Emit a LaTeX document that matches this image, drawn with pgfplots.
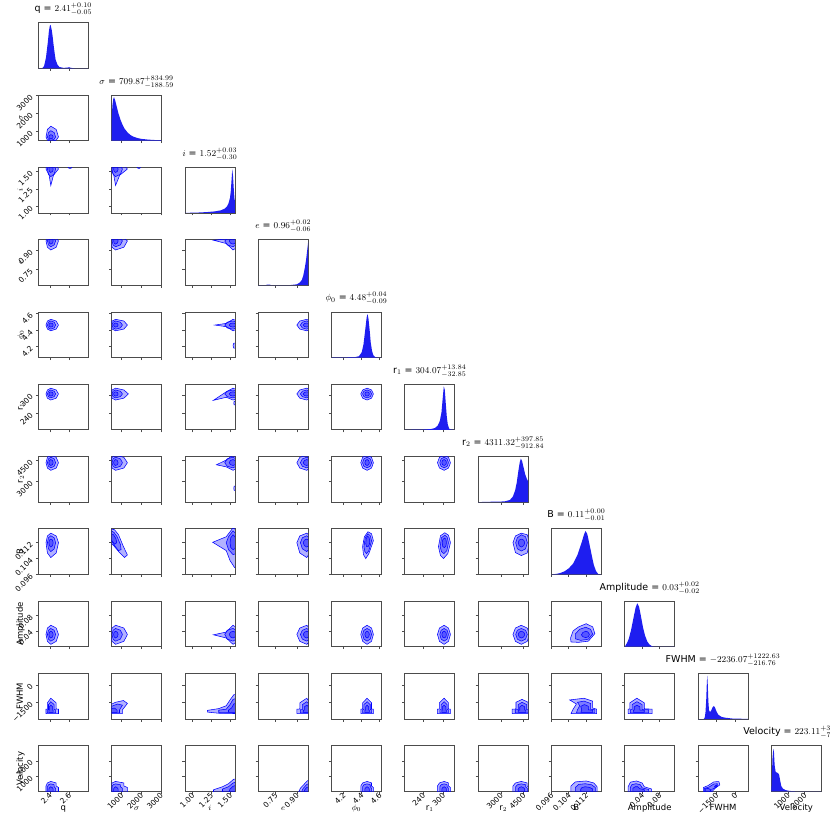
\documentclass[border=0pt]{standalone}
\usepackage{pgfplots}
\pgfplotsset{compat=1.18}
\usepackage{fontspec}
\newfontfamily\dv{DejaVu Sans}
\definecolor{hb}{RGB}{30,30,240}
\pgfplotsset{
  cp/.style={anchor=north west, scale only axis, width=50pt, height=45.6pt,
    axis line style={black!70,line width=0.7pt},
    every tick/.style={black!70,line width=0.6pt},
    major tick length=2.5pt, tick align=outside, tick pos=left,
    xticklabels={}, yticklabels={},
    tick label style={font=\dv\fontsize{7.5}{8}\selectfont},
    xticklabel style={rotate=45,anchor=east,xshift=3.5pt,yshift=-1pt},
    yticklabel style={rotate=45,anchor=east,yshift=2.5pt},
    xlabel style={font=\dv\fontsize{8.5}{10}\selectfont,at={(axis description cs:0.5,-0.41)},anchor=base},
    ylabel style={font=\dv\fontsize{8.5}{10}\selectfont,at={(axis description cs:-0.31,0.5)},anchor=base},
    title style={font=\dv\fontsize{9.5}{11}\selectfont,at={(axis description cs:0.5,1)},anchor=base,yshift=5pt},
    clip=true},
  cell/.style 2 args={at={({38.3pt+73.3pt*(#2-1)},{-22.7pt-72.3pt*(#1-1)})}},
  dg/.style={ymin=0,ymax=1.05,ytick=\empty},
  lv/.style={fill=blue,fill opacity=0.3,draw=blue,line width=0.55pt},
  hist/.style={draw=none,fill=hb},
  xq/.style={xmin=2.28,xmax=2.80,xtick={2.4,2.6}},
  xs/.style={xmin=500,xmax=3030,xtick={1000,2000,3000}},
  ys/.style={ymin=500,ymax=3030,ytick={1000,2000,3000}},
  xi/.style={xmin=0.9,xmax=1.565,xtick={1,1.25,1.5}},
  yi/.style={ymin=0.9,ymax=1.565,ytick={1,1.25,1.5}},
  xe/.style={xmin=0.628,xmax=0.98,xtick={0.75,0.9}},
  ye/.style={ymin=0.628,ymax=0.98,ytick={0.75,0.9}},
  xp/.style={xmin=4.065,xmax=4.62,xtick={4.2,4.4,4.6}},
  yp/.style={ymin=4.065,ymax=4.62,ytick={4.2,4.4,4.6}},
  xr/.style={xmin=185,xmax=335,xtick={240,300}},
  yr/.style={ymin=185,ymax=335,ytick={240,300}},
  xt/.style={xmin=1500,xmax=4800,xtick={3000,4500}},
  yt/.style={ymin=1500,ymax=4800,ytick={3000,4500}},
  xb/.style={xmin=0.096,xmax=0.119,xtick={0.096,0.104,0.112}},
  yb/.style={ymin=0.096,ymax=0.119,ytick={0.096,0.104,0.112}},
  xa/.style={xmin=0,xmax=0.115,xtick={0.04,0.08}},
  ya/.style={ymin=0,ymax=0.115,ytick={0.04,0.08}},
  xf/.style={xmin=-2950,xmax=1000,xtick={-1500,0}},
  yf/.style={ymin=-2950,ymax=1000,ytick={-1500,0}},
  xv/.style={xmin=0,xmax=3000,xtick={1000,2000}},
  yv/.style={ymin=0,ymax=3000,ytick={1000,2000}},
}
\begin{document}
\begin{tikzpicture}
\useasboundingbox (0,0) rectangle (830pt,-830pt);
% ---------------- row 1
\begin{axis}[cp,cell={1}{1},xq,dg,title={q = $2.41^{+0.10}_{-0.05}$}]
\addplot[hist] coordinates {(2.28,0)(2.32,0)(2.34,0.05)(2.36,0.25)(2.38,0.62)(2.39,0.85)(2.40,0.98)(2.405,1.0)(2.41,0.98)(2.42,0.88)(2.43,0.72)(2.44,0.52)(2.45,0.35)(2.46,0.2)(2.48,0.08)(2.50,0.03)(2.54,0.01)(2.58,0.015)(2.60,0.025)(2.62,0.01)(2.66,0)(2.80,0)} \closedcycle;
\end{axis}
% ---------------- row 2 (sigma)
\begin{axis}[cp,cell={2}{1},xq,ys,yticklabels={1000,2000,3000},ylabel={$\sigma$}]
\addplot[lv] coordinates {(2.49,700)(2.466,1120)(2.41,1300)(2.375,1120)(2.36,700)(2.375,525)(2.41,450)(2.466,525)(2.49,700)};
\addplot[lv] coordinates {(2.46,700)(2.445,945)(2.41,1050)(2.386,945)(2.375,700)(2.386,574)(2.41,520)(2.445,574)(2.46,700)};
\addplot[lv] coordinates {(2.435,700)(2.428,791)(2.41,830)(2.396,791)(2.39,700)(2.396,630)(2.41,600)(2.428,630)(2.435,700)};
\end{axis}
\begin{axis}[cp,cell={2}{2},xs,dg,title={$\sigma$ = $709.87^{+834.99}_{-188.59}$}]
\addplot[hist] coordinates {(500,0)(501,0.45)(540,0.8)(580,0.95)(620,1.0)(680,0.93)(750,0.8)(850,0.62)(950,0.48)(1050,0.37)(1150,0.28)(1300,0.19)(1450,0.13)(1600,0.09)(1800,0.06)(2000,0.04)(2300,0.025)(2600,0.015)(3000,0.008)(3030,0)} \closedcycle;
\end{axis}
% ---------------- row 3 (i)
\begin{axis}[cp,cell={3}{1},xq,yi,yticklabels={1.00,1.25,1.50},ylabel={$i$}]
\addplot[lv] coordinates {(2.49,1.54)(2.466,1.596)(2.41,1.62)(2.375,1.596)(2.36,1.54)(2.3925,1.45)(2.41,1.30)(2.438,1.45)(2.49,1.54)};
\addplot[lv] coordinates {(2.46,1.54)(2.445,1.582)(2.41,1.60)(2.386,1.582)(2.375,1.54)(2.386,1.463)(2.41,1.43)(2.445,1.463)(2.46,1.54)};
\addplot[lv] coordinates {(2.435,1.54)(2.428,1.568)(2.41,1.58)(2.396,1.568)(2.39,1.54)(2.396,1.505)(2.41,1.49)(2.428,1.505)(2.435,1.54)};
\addplot[lv] coordinates {(2.63,1.565)(2.62,1.58)(2.60,1.58)(2.59,1.565)(2.60,1.55)(2.62,1.55)(2.63,1.565)};
\end{axis}
\begin{axis}[cp,cell={3}{2},xs,yi]
\addplot[lv] coordinates {(1300,1.54)(1120,1.596)(700,1.62)(525,1.596)(450,1.54)(612,1.45)(700,1.30)(910,1.45)(1300,1.54)};
\addplot[lv] coordinates {(1050,1.54)(945,1.582)(700,1.60)(574,1.582)(520,1.54)(574,1.463)(700,1.43)(945,1.463)(1050,1.54)};
\addplot[lv] coordinates {(830,1.54)(791,1.568)(700,1.58)(630,1.568)(600,1.54)(630,1.505)(700,1.49)(791,1.505)(830,1.54)};
\addplot[lv] coordinates {(1960,1.565)(1920,1.58)(1840,1.58)(1800,1.565)(1840,1.55)(1920,1.55)(1960,1.565)};
\end{axis}
\begin{axis}[cp,cell={3}{3},xi,dg,title={$i$ = $1.52^{+0.03}_{-0.30}$}]
\addplot[hist] coordinates {(0.9,0)(1.0,0.005)(1.1,0.01)(1.2,0.02)(1.3,0.035)(1.38,0.06)(1.43,0.1)(1.46,0.15)(1.48,0.22)(1.50,0.35)(1.51,0.5)(1.52,0.75)(1.53,1.0)(1.54,0.85)(1.55,0.55)(1.56,0.32)(1.565,0.28)(1.565,0)} \closedcycle;
\end{axis}
% ---------------- row 4 (e)
\begin{axis}[cp,cell={4}{1},xq,ye,yticklabels={0.75,0.90},ylabel={$e$}]
\addplot[lv] coordinates {(2.49,0.97)(2.466,0.991)(2.41,1.0)(2.375,0.991)(2.36,0.97)(2.375,0.921)(2.41,0.90)(2.466,0.921)(2.49,0.97)};
\addplot[lv] coordinates {(2.46,0.97)(2.445,0.988)(2.41,0.995)(2.386,0.988)(2.375,0.97)(2.386,0.939)(2.41,0.925)(2.445,0.939)(2.46,0.97)};
\addplot[lv] coordinates {(2.435,0.97)(2.428,0.984)(2.41,0.99)(2.396,0.984)(2.39,0.97)(2.396,0.953)(2.41,0.945)(2.428,0.953)(2.435,0.97)};
\end{axis}
\begin{axis}[cp,cell={4}{2},xs,ye]
\addplot[lv] coordinates {(1300,0.97)(1120,0.991)(700,1.0)(525,0.991)(450,0.97)(525,0.921)(700,0.90)(1120,0.921)(1300,0.97)};
\addplot[lv] coordinates {(1050,0.97)(945,0.988)(700,0.995)(574,0.988)(520,0.97)(574,0.939)(700,0.925)(945,0.939)(1050,0.97)};
\addplot[lv] coordinates {(830,0.97)(791,0.984)(700,0.99)(630,0.984)(600,0.97)(630,0.953)(700,0.945)(791,0.953)(830,0.97)};
\end{axis}
\begin{axis}[cp,cell={4}{3},xi,ye]
\addplot[lv] coordinates {(1.62,0.97)(1.596,0.991)(1.54,1.0)(1.45,0.985)(1.28,0.975)(1.45,0.95)(1.54,0.90)(1.596,0.921)(1.62,0.97)};
\addplot[lv] coordinates {(1.60,0.97)(1.582,0.988)(1.54,0.995)(1.463,0.988)(1.43,0.97)(1.463,0.939)(1.54,0.925)(1.582,0.939)(1.60,0.97)};
\addplot[lv] coordinates {(1.58,0.97)(1.568,0.984)(1.54,0.99)(1.505,0.984)(1.49,0.97)(1.505,0.953)(1.54,0.945)(1.568,0.953)(1.58,0.97)};
\end{axis}
\begin{axis}[cp,cell={4}{4},xe,dg,title={$e$ = $0.96^{+0.02}_{-0.06}$}]
\addplot[hist] coordinates {(0.628,0)(0.68,0)(0.69,0.012)(0.71,0.012)(0.72,0)(0.85,0.002)(0.90,0.02)(0.92,0.06)(0.935,0.12)(0.945,0.22)(0.955,0.38)(0.965,0.58)(0.972,0.78)(0.98,1.0)(0.98,0)} \closedcycle;
\end{axis}
% ---------------- row 5 (phi0)
\begin{axis}[cp,cell={5}{1},xq,yp,yticklabels={4.2,4.4,4.6},ylabel={$\phi_0$}]
\addplot[lv] coordinates {(2.49,4.46)(2.466,4.509)(2.41,4.53)(2.375,4.509)(2.36,4.46)(2.375,4.411)(2.41,4.39)(2.466,4.411)(2.49,4.46)};
\addplot[lv] coordinates {(2.46,4.46)(2.445,4.495)(2.41,4.51)(2.386,4.495)(2.375,4.46)(2.386,4.425)(2.41,4.41)(2.445,4.425)(2.46,4.46)};
\addplot[lv] coordinates {(2.435,4.46)(2.428,4.478)(2.41,4.485)(2.396,4.478)(2.39,4.46)(2.396,4.443)(2.41,4.435)(2.428,4.443)(2.435,4.46)};
\end{axis}
\begin{axis}[cp,cell={5}{2},xs,yp]
\addplot[lv] coordinates {(1300,4.46)(1120,4.509)(700,4.53)(525,4.509)(450,4.46)(525,4.411)(700,4.39)(1120,4.411)(1300,4.46)};
\addplot[lv] coordinates {(1050,4.46)(945,4.495)(700,4.51)(574,4.495)(520,4.46)(574,4.425)(700,4.41)(945,4.425)(1050,4.46)};
\addplot[lv] coordinates {(830,4.46)(791,4.478)(700,4.485)(630,4.478)(600,4.46)(630,4.443)(700,4.435)(791,4.443)(830,4.46)};
\end{axis}
\begin{axis}[cp,cell={5}{3},xi,yp]
\addplot[lv] coordinates {(1.62,4.46)(1.596,4.509)(1.54,4.53)(1.45,4.48)(1.30,4.46)(1.45,4.44)(1.54,4.39)(1.596,4.411)(1.62,4.46)};
\addplot[lv] coordinates {(1.60,4.46)(1.582,4.495)(1.54,4.51)(1.463,4.495)(1.43,4.46)(1.463,4.425)(1.54,4.41)(1.582,4.425)(1.60,4.46)};
\addplot[lv] coordinates {(1.58,4.46)(1.568,4.478)(1.54,4.485)(1.505,4.478)(1.49,4.46)(1.505,4.443)(1.54,4.435)(1.568,4.443)(1.58,4.46)};
\addplot[lv] coordinates {(1.60,4.21)(1.58,4.24)(1.55,4.24)(1.54,4.21)(1.55,4.18)(1.58,4.18)(1.60,4.21)};
\end{axis}
\begin{axis}[cp,cell={5}{4},xe,yp]
\addplot[lv] coordinates {(1.0,4.46)(0.991,4.509)(0.97,4.53)(0.921,4.509)(0.90,4.46)(0.921,4.411)(0.97,4.39)(0.991,4.411)(1.0,4.46)};
\addplot[lv] coordinates {(0.995,4.46)(0.988,4.495)(0.97,4.51)(0.939,4.495)(0.925,4.46)(0.939,4.425)(0.97,4.41)(0.988,4.425)(0.995,4.46)};
\addplot[lv] coordinates {(0.99,4.46)(0.984,4.478)(0.97,4.485)(0.953,4.478)(0.945,4.46)(0.953,4.443)(0.97,4.435)(0.984,4.443)(0.99,4.46)};
\end{axis}
\begin{axis}[cp,cell={5}{5},xp,dg,title={$\phi_0$ = $4.48^{+0.04}_{-0.09}$}]
\addplot[hist] coordinates {(4.065,0)(4.15,0.003)(4.25,0.006)(4.33,0.01)(4.37,0.03)(4.40,0.12)(4.42,0.3)(4.44,0.65)(4.455,0.92)(4.465,1.0)(4.475,0.9)(4.49,0.6)(4.50,0.35)(4.515,0.15)(4.53,0.05)(4.55,0.01)(4.58,0)(4.62,0)} \closedcycle;
\end{axis}
% ---------------- row 6 (r1)
\begin{axis}[cp,cell={6}{1},xq,yr,yticklabels={240,300},ylabel={r$_1$}]
\addplot[lv] coordinates {(2.49,303)(2.466,316)(2.41,322)(2.375,316)(2.36,303)(2.375,289)(2.41,283)(2.466,289)(2.49,303)};
\addplot[lv] coordinates {(2.46,303)(2.445,312)(2.41,316)(2.386,312)(2.375,303)(2.386,294)(2.41,290)(2.445,294)(2.46,303)};
\addplot[lv] coordinates {(2.435,303)(2.428,308)(2.41,310)(2.396,308)(2.39,303)(2.396,298)(2.41,296)(2.428,298)(2.435,303)};
\end{axis}
\begin{axis}[cp,cell={6}{2},xs,yr]
\addplot[lv] coordinates {(1350,303)(1120,316)(700,322)(525,316)(450,303)(525,289)(700,283)(1120,289)(1350,303)};
\addplot[lv] coordinates {(1050,303)(945,312)(700,316)(574,312)(520,303)(574,294)(700,290)(945,294)(1050,303)};
\addplot[lv] coordinates {(830,303)(791,308)(700,310)(630,308)(600,303)(630,298)(700,296)(791,298)(830,303)};
\end{axis}
\begin{axis}[cp,cell={6}{3},xi,yr]
\addplot[lv] coordinates {(1.62,303)(1.596,316)(1.54,322)(1.45,310)(1.28,282)(1.45,292)(1.54,283)(1.596,289)(1.62,303)};
\addplot[lv] coordinates {(1.60,303)(1.582,312)(1.54,316)(1.463,312)(1.43,303)(1.463,294)(1.54,290)(1.582,294)(1.60,303)};
\addplot[lv] coordinates {(1.58,303)(1.568,308)(1.54,310)(1.505,308)(1.49,303)(1.505,298)(1.54,296)(1.568,298)(1.58,303)};
\addplot[lv] coordinates {(1.60,273)(1.58,279)(1.555,279)(1.55,273)(1.555,267)(1.58,267)(1.60,273)};
\end{axis}
\begin{axis}[cp,cell={6}{4},xe,yr]
\addplot[lv] coordinates {(1.0,303)(0.991,316)(0.97,322)(0.921,316)(0.90,303)(0.921,289)(0.97,283)(0.991,289)(1.0,303)};
\addplot[lv] coordinates {(0.995,303)(0.988,312)(0.97,316)(0.939,312)(0.925,303)(0.939,294)(0.97,290)(0.988,294)(0.995,303)};
\addplot[lv] coordinates {(0.99,303)(0.984,308)(0.97,310)(0.953,308)(0.945,303)(0.953,298)(0.97,296)(0.984,298)(0.99,303)};
\end{axis}
\begin{axis}[cp,cell={6}{5},xp,yr]
\addplot[lv] coordinates {(4.53,303)(4.509,316)(4.46,322)(4.411,316)(4.39,303)(4.411,289)(4.46,283)(4.509,289)(4.53,303)};
\addplot[lv] coordinates {(4.51,303)(4.495,312)(4.46,316)(4.425,312)(4.41,303)(4.425,294)(4.46,290)(4.495,294)(4.51,303)};
\addplot[lv] coordinates {(4.485,303)(4.478,308)(4.46,310)(4.443,308)(4.435,303)(4.443,298)(4.46,296)(4.478,298)(4.485,303)};
\end{axis}
\begin{axis}[cp,cell={6}{6},xr,dg,title={r$_1$ = $304.07^{+13.84}_{-32.85}$}]
\addplot[hist] coordinates {(185,0)(230,0.003)(250,0.01)(265,0.02)(275,0.04)(283,0.09)(290,0.2)(295,0.4)(299,0.75)(302,1.0)(305,0.92)(308,0.6)(311,0.3)(314,0.12)(318,0.03)(322,0.005)(330,0)(335,0)} \closedcycle;
\end{axis}
% ---------------- row 7 (r2)
\begin{axis}[cp,cell={7}{1},xq,yt,yticklabels={3000,4500},ylabel={r$_2$}]
\addplot[lv] coordinates {(2.49,4350)(2.466,4740)(2.41,4900)(2.375,4740)(2.36,4350)(2.375,3965)(2.41,3800)(2.466,3965)(2.49,4350)};
\addplot[lv] coordinates {(2.46,4350)(2.445,4630)(2.41,4750)(2.386,4630)(2.375,4350)(2.386,4091)(2.41,3980)(2.445,4091)(2.46,4350)};
\addplot[lv] coordinates {(2.435,4350)(2.428,4511)(2.41,4580)(2.396,4511)(2.39,4350)(2.396,4210)(2.41,4150)(2.428,4210)(2.435,4350)};
\end{axis}
\begin{axis}[cp,cell={7}{2},xs,yt]
\addplot[lv] coordinates {(1300,4350)(1120,4740)(700,4900)(525,4740)(450,4350)(525,3965)(700,3800)(1120,3965)(1300,4350)};
\addplot[lv] coordinates {(1050,4350)(945,4630)(700,4750)(574,4630)(520,4350)(574,4091)(700,3980)(945,4091)(1050,4350)};
\addplot[lv] coordinates {(830,4350)(791,4511)(700,4580)(630,4511)(600,4350)(630,4210)(700,4150)(791,4210)(830,4350)};
\end{axis}
\begin{axis}[cp,cell={7}{3},xi,yt]
\addplot[lv] coordinates {(1.62,4350)(1.596,4740)(1.54,4900)(1.45,4550)(1.32,4200)(1.45,4050)(1.54,3800)(1.596,3965)(1.62,4350)};
\addplot[lv] coordinates {(1.60,4350)(1.582,4630)(1.54,4750)(1.463,4630)(1.43,4350)(1.463,4091)(1.54,3980)(1.582,4091)(1.60,4350)};
\addplot[lv] coordinates {(1.58,4350)(1.568,4511)(1.54,4580)(1.505,4511)(1.49,4350)(1.505,4210)(1.54,4150)(1.568,4210)(1.58,4350)};
\addplot[lv] coordinates {(1.60,2500)(1.58,2650)(1.555,2650)(1.55,2500)(1.555,2350)(1.58,2350)(1.60,2500)};
\end{axis}
\begin{axis}[cp,cell={7}{4},xe,yt]
\addplot[lv] coordinates {(1.0,4350)(0.991,4740)(0.97,4900)(0.921,4740)(0.90,4350)(0.921,3965)(0.97,3800)(0.991,3965)(1.0,4350)};
\addplot[lv] coordinates {(0.995,4350)(0.988,4630)(0.97,4750)(0.939,4630)(0.925,4350)(0.939,4091)(0.97,3980)(0.988,4091)(0.995,4350)};
\addplot[lv] coordinates {(0.99,4350)(0.984,4511)(0.97,4580)(0.953,4511)(0.945,4350)(0.953,4210)(0.97,4150)(0.984,4210)(0.99,4350)};
\end{axis}
\begin{axis}[cp,cell={7}{5},xp,yt]
\addplot[lv] coordinates {(4.53,4350)(4.509,4740)(4.46,4900)(4.411,4740)(4.39,4350)(4.411,3965)(4.46,3800)(4.509,3965)(4.53,4350)};
\addplot[lv] coordinates {(4.51,4350)(4.495,4630)(4.46,4750)(4.425,4630)(4.41,4350)(4.425,4091)(4.46,3980)(4.495,4091)(4.51,4350)};
\addplot[lv] coordinates {(4.485,4350)(4.478,4511)(4.46,4580)(4.443,4511)(4.435,4350)(4.443,4210)(4.46,4150)(4.478,4210)(4.485,4350)};
\end{axis}
\begin{axis}[cp,cell={7}{6},xr,yt]
\addplot[lv] coordinates {(322,4350)(316,4740)(303,4900)(289,4740)(283,4350)(289,3965)(303,3800)(316,3965)(322,4350)};
\addplot[lv] coordinates {(316,4350)(312,4630)(303,4750)(294,4630)(290,4350)(294,4091)(303,3980)(312,4091)(316,4350)};
\addplot[lv] coordinates {(310,4350)(308,4511)(303,4580)(298,4511)(296,4350)(298,4210)(303,4150)(308,4210)(310,4350)};
\end{axis}
\begin{axis}[cp,cell={7}{7},xt,dg,title={r$_2$ = $4311.32^{+397.85}_{-912.84}$}]
\addplot[hist] coordinates {(1500,0)(2000,0.005)(2500,0.01)(3000,0.012)(3300,0.02)(3600,0.05)(3800,0.13)(3950,0.28)(4050,0.45)(4150,0.7)(4250,0.92)(4320,1.0)(4400,0.95)(4500,0.8)(4600,0.65)(4700,0.55)(4800,0.48)(4800,0)} \closedcycle;
\end{axis}
% ---------------- row 8 (B)
\begin{axis}[cp,cell={8}{1},xq,yb,yticklabels={0.096,0.104,0.112},ylabel={B}]
\addplot[lv] coordinates {(2.49,0.112)(2.466,0.1154)(2.41,0.1168)(2.375,0.1154)(2.36,0.112)(2.375,0.1068)(2.41,0.1045)(2.466,0.1068)(2.49,0.112)};
\addplot[lv] coordinates {(2.46,0.112)(2.445,0.1145)(2.41,0.1155)(2.386,0.1145)(2.375,0.112)(2.386,0.1089)(2.41,0.1075)(2.445,0.1089)(2.46,0.112)};
\addplot[lv] coordinates {(2.435,0.112)(2.428,0.1133)(2.41,0.1138)(2.396,0.1133)(2.39,0.112)(2.396,0.1105)(2.41,0.1098)(2.428,0.1105)(2.435,0.112)};
\end{axis}
\begin{axis}[cp,cell={8}{2},xs,yb]
\addplot[lv] coordinates {(450,0.1190)(650,0.1185)(850,0.1160)(1100,0.1100)(1300,0.1058)(1150,0.1045)(900,0.1070)(650,0.1100)(450,0.1120)(450,0.1190)};
\addplot[lv] coordinates {(480,0.1180)(620,0.1172)(780,0.1150)(950,0.1110)(980,0.1085)(850,0.1080)(650,0.1105)(480,0.1130)(480,0.1180)};
\addplot[lv] coordinates {(480,0.1165)(600,0.1160)(720,0.1140)(760,0.1120)(650,0.1112)(480,0.1135)(480,0.1165)};
\end{axis}
\begin{axis}[cp,cell={8}{3},xi,yb]
\addplot[lv] coordinates {(1.62,0.112)(1.596,0.1180)(1.54,0.1195)(1.45,0.1150)(1.27,0.1122)(1.45,0.1080)(1.50,0.1030)(1.56,0.0995)(1.62,0.1000)(1.62,0.112)};
\addplot[lv] coordinates {(1.60,0.112)(1.582,0.1165)(1.54,0.1180)(1.48,0.1150)(1.45,0.112)(1.48,0.1085)(1.54,0.1060)(1.582,0.1065)(1.60,0.112)};
\addplot[lv] coordinates {(1.58,0.112)(1.568,0.1150)(1.54,0.1160)(1.51,0.1145)(1.50,0.112)(1.51,0.1095)(1.54,0.1085)(1.568,0.1090)(1.58,0.112)};
\end{axis}
\begin{axis}[cp,cell={8}{4},xe,yb]
\addplot[lv] coordinates {(1.0,0.112)(0.991,0.1154)(0.97,0.1168)(0.921,0.1154)(0.90,0.112)(0.921,0.1068)(0.97,0.1045)(0.991,0.1068)(1.0,0.112)};
\addplot[lv] coordinates {(0.995,0.112)(0.988,0.1145)(0.97,0.1155)(0.939,0.1145)(0.925,0.112)(0.939,0.1089)(0.97,0.1075)(0.988,0.1089)(0.995,0.112)};
\addplot[lv] coordinates {(0.99,0.112)(0.984,0.1133)(0.97,0.1138)(0.953,0.1133)(0.945,0.112)(0.953,0.1105)(0.97,0.1098)(0.984,0.1105)(0.99,0.112)};
\end{axis}
\begin{axis}[cp,cell={8}{5},xp,yb]
\addplot[lv] coordinates {(4.53,0.113)(4.509,0.1165)(4.47,0.1175)(4.43,0.1150)(4.41,0.110)(4.42,0.1060)(4.445,0.1040)(4.48,0.1065)(4.53,0.113)};
\addplot[lv] coordinates {(4.51,0.113)(4.495,0.1155)(4.47,0.1165)(4.44,0.1145)(4.425,0.110)(4.435,0.1075)(4.455,0.1065)(4.48,0.108)(4.51,0.113)};
\addplot[lv] coordinates {(4.49,0.113)(4.48,0.1148)(4.465,0.1152)(4.45,0.1140)(4.445,0.1115)(4.455,0.1100)(4.47,0.1100)(4.485,0.111)(4.49,0.113)};
\end{axis}
\begin{axis}[cp,cell={8}{6},xr,yb]
\addplot[lv] coordinates {(322,0.112)(316,0.1158)(305,0.1170)(292,0.1155)(286,0.110)(292,0.1055)(301,0.1040)(314,0.1065)(322,0.112)};
\addplot[lv] coordinates {(316,0.112)(312,0.1148)(305,0.1158)(295,0.1145)(291,0.110)(295,0.1075)(302,0.1065)(311,0.108)(316,0.112)};
\addplot[lv] coordinates {(310,0.112)(308,0.1138)(304,0.1144)(299,0.1135)(297,0.112)(299,0.1100)(304,0.1095)(308,0.1102)(310,0.112)};
\end{axis}
\begin{axis}[cp,cell={8}{7},xt,yb]
\addplot[lv] coordinates {(4900,0.112)(4740,0.1160)(4350,0.1168)(3965,0.1154)(3800,0.112)(3965,0.1070)(4350,0.1055)(4740,0.1068)(4900,0.112)};
\addplot[lv] coordinates {(4750,0.112)(4630,0.1150)(4350,0.1160)(4091,0.1145)(3980,0.112)(4091,0.1089)(4350,0.1078)(4630,0.1089)(4750,0.112)};
\addplot[lv] coordinates {(4580,0.112)(4511,0.1133)(4350,0.1138)(4210,0.1133)(4150,0.112)(4210,0.1105)(4350,0.1098)(4511,0.1105)(4580,0.112)};
\end{axis}
\begin{axis}[cp,cell={8}{8},xb,dg,title={B = $0.11^{+0.00}_{-0.01}$}]
\addplot[hist] coordinates {(0.096,0)(0.098,0.01)(0.100,0.03)(0.102,0.07)(0.104,0.14)(0.106,0.25)(0.108,0.45)(0.110,0.75)(0.111,0.92)(0.1117,1.0)(0.1125,0.93)(0.1135,0.7)(0.1145,0.45)(0.1155,0.22)(0.1165,0.08)(0.1175,0.01)(0.119,0)} \closedcycle;
\end{axis}
% ---------------- row 9 (Amplitude)
\begin{axis}[cp,cell={9}{1},xq,ya,yticklabels={0.04,0.08},ylabel={Amplitude}]
\addplot[lv] coordinates {(2.49,0.031)(2.466,0.0471)(2.41,0.054)(2.375,0.0471)(2.36,0.031)(2.375,0.0135)(2.41,0.006)(2.466,0.0135)(2.49,0.031)};
\addplot[lv] coordinates {(2.46,0.031)(2.445,0.0415)(2.41,0.046)(2.386,0.0415)(2.375,0.031)(2.386,0.0191)(2.41,0.014)(2.445,0.0191)(2.46,0.031)};
\addplot[lv] coordinates {(2.435,0.031)(2.428,0.0366)(2.41,0.039)(2.396,0.0366)(2.39,0.031)(2.396,0.0247)(2.41,0.022)(2.428,0.0247)(2.435,0.031)};
\end{axis}
\begin{axis}[cp,cell={9}{2},xs,ya]
\addplot[lv] coordinates {(1300,0.031)(1120,0.0471)(700,0.054)(525,0.0471)(450,0.031)(525,0.0135)(700,0.006)(1120,0.0135)(1300,0.031)};
\addplot[lv] coordinates {(1050,0.031)(945,0.0415)(700,0.046)(574,0.0415)(520,0.031)(574,0.0191)(700,0.014)(945,0.0191)(1050,0.031)};
\addplot[lv] coordinates {(830,0.031)(791,0.0366)(700,0.039)(630,0.0366)(600,0.031)(630,0.0247)(700,0.022)(791,0.0247)(830,0.031)};
\end{axis}
\begin{axis}[cp,cell={9}{3},xi,ya]
\addplot[lv] coordinates {(1.62,0.031)(1.596,0.0471)(1.54,0.054)(1.45,0.037)(1.28,0.030)(1.45,0.022)(1.54,0.006)(1.596,0.0135)(1.62,0.031)};
\addplot[lv] coordinates {(1.60,0.031)(1.582,0.0415)(1.54,0.046)(1.463,0.0415)(1.43,0.031)(1.463,0.0191)(1.54,0.014)(1.582,0.0191)(1.60,0.031)};
\addplot[lv] coordinates {(1.58,0.031)(1.568,0.0366)(1.54,0.039)(1.505,0.0366)(1.49,0.031)(1.505,0.0247)(1.54,0.022)(1.568,0.0247)(1.58,0.031)};
\end{axis}
\begin{axis}[cp,cell={9}{4},xe,ya]
\addplot[lv] coordinates {(1.0,0.031)(0.991,0.0471)(0.97,0.054)(0.921,0.0471)(0.90,0.031)(0.921,0.0135)(0.97,0.006)(0.991,0.0135)(1.0,0.031)};
\addplot[lv] coordinates {(0.995,0.031)(0.988,0.0415)(0.97,0.046)(0.939,0.0415)(0.925,0.031)(0.939,0.0191)(0.97,0.014)(0.988,0.0191)(0.995,0.031)};
\addplot[lv] coordinates {(0.99,0.031)(0.984,0.0366)(0.97,0.039)(0.953,0.0366)(0.945,0.031)(0.953,0.0247)(0.97,0.022)(0.984,0.0247)(0.99,0.031)};
\end{axis}
\begin{axis}[cp,cell={9}{5},xp,ya]
\addplot[lv] coordinates {(4.53,0.031)(4.509,0.0471)(4.46,0.054)(4.411,0.0471)(4.39,0.031)(4.411,0.0135)(4.46,0.006)(4.509,0.0135)(4.53,0.031)};
\addplot[lv] coordinates {(4.51,0.031)(4.495,0.0415)(4.46,0.046)(4.425,0.0415)(4.41,0.031)(4.425,0.0191)(4.46,0.014)(4.495,0.0191)(4.51,0.031)};
\addplot[lv] coordinates {(4.485,0.031)(4.478,0.0366)(4.46,0.039)(4.443,0.0366)(4.435,0.031)(4.443,0.0247)(4.46,0.022)(4.478,0.0247)(4.485,0.031)};
\end{axis}
\begin{axis}[cp,cell={9}{6},xr,ya]
\addplot[lv] coordinates {(322,0.031)(316,0.0471)(303,0.054)(289,0.0471)(283,0.031)(289,0.0135)(303,0.006)(316,0.0135)(322,0.031)};
\addplot[lv] coordinates {(316,0.031)(312,0.0415)(303,0.046)(294,0.0415)(290,0.031)(294,0.0191)(303,0.014)(312,0.0191)(316,0.031)};
\addplot[lv] coordinates {(310,0.031)(308,0.0366)(303,0.039)(298,0.0366)(296,0.031)(298,0.0247)(303,0.022)(308,0.0247)(310,0.031)};
\end{axis}
\begin{axis}[cp,cell={9}{7},xt,ya]
\addplot[lv] coordinates {(4900,0.031)(4740,0.0471)(4350,0.054)(3965,0.0471)(3800,0.031)(3965,0.0135)(4350,0.006)(4740,0.0135)(4900,0.031)};
\addplot[lv] coordinates {(4750,0.031)(4630,0.0415)(4350,0.046)(4091,0.0415)(3980,0.031)(4091,0.0191)(4350,0.014)(4630,0.0191)(4750,0.031)};
\addplot[lv] coordinates {(4580,0.031)(4511,0.0366)(4350,0.039)(4210,0.0366)(4150,0.031)(4210,0.0247)(4350,0.022)(4511,0.0247)(4580,0.031)};
\end{axis}
\begin{axis}[cp,cell={9}{8},xb,ya]
\addplot[lv] coordinates {(0.1160,0.033)(0.1150,0.050)(0.1120,0.058)(0.1085,0.050)(0.1060,0.040)(0.1048,0.022)(0.1050,0.012)(0.1085,0.011)(0.1130,0.014)(0.1160,0.033)};
\addplot[lv] coordinates {(0.1150,0.032)(0.1140,0.044)(0.1118,0.049)(0.1090,0.044)(0.1070,0.032)(0.1070,0.020)(0.1095,0.016)(0.1130,0.019)(0.1150,0.032)};
\addplot[lv] coordinates {(0.1135,0.031)(0.1128,0.037)(0.1118,0.039)(0.1105,0.036)(0.1098,0.030)(0.1105,0.025)(0.1118,0.023)(0.1130,0.025)(0.1135,0.031)};
\end{axis}
\begin{axis}[cp,cell={9}{9},xa,dg,title={Amplitude = $0.03^{+0.02}_{-0.02}$}]
\addplot[hist] coordinates {(0,0)(0.002,0.03)(0.006,0.1)(0.01,0.2)(0.015,0.4)(0.02,0.65)(0.025,0.9)(0.029,1.0)(0.033,0.92)(0.037,0.72)(0.042,0.45)(0.047,0.25)(0.052,0.12)(0.057,0.05)(0.063,0.01)(0.07,0)(0.115,0)} \closedcycle;
\end{axis}
% ---------------- row 10 (FWHM)
\begin{axis}[cp,cell={10}{1},xq,yf,yticklabels={−1500,0},ylabel={FWHM}]
\addplot[lv] coordinates {(2.36,-2480)(2.49,-2480)(2.49,-2100)(2.466,-2080)(2.466,-1550)(2.41,-1150)(2.375,-1550)(2.375,-2080)(2.36,-2100)(2.36,-2480)};
\addplot[lv] coordinates {(2.375,-2420)(2.46,-2420)(2.46,-2150)(2.445,-2130)(2.445,-1700)(2.41,-1450)(2.386,-1700)(2.386,-2130)(2.375,-2150)(2.375,-2420)};
\addplot[lv] coordinates {(2.39,-2370)(2.435,-2370)(2.435,-2190)(2.428,-2170)(2.428,-1900)(2.41,-1750)(2.396,-1900)(2.396,-2170)(2.39,-2190)(2.39,-2370)};
\end{axis}
\begin{axis}[cp,cell={10}{2},xs,yf]
\addplot[lv] coordinates {(450,-2480)(1050,-2480)(1050,-2150)(1300,-1600)(1100,-1350)(700,-1500)(450,-1700)(450,-2480)};
\addplot[lv] coordinates {(450,-2420)(900,-2420)(900,-2170)(1050,-1750)(800,-1650)(500,-1850)(450,-2420)};
\addplot[lv] coordinates {(480,-2370)(780,-2370)(780,-2190)(650,-2000)(480,-2050)(480,-2370)};
\end{axis}
\begin{axis}[cp,cell={10}{3},xi,yf]
\addplot[lv] coordinates {(1.20,-2350)(1.35,-2450)(1.62,-2480)(1.62,-800)(1.55,-850)(1.50,-1300)(1.45,-1800)(1.35,-2050)(1.20,-2200)(1.20,-2350)};
\addplot[lv] coordinates {(1.35,-2400)(1.62,-2420)(1.62,-1100)(1.54,-1250)(1.50,-1700)(1.45,-2100)(1.35,-2180)(1.35,-2400)};
\addplot[lv] coordinates {(1.48,-2370)(1.62,-2370)(1.62,-1500)(1.55,-1650)(1.52,-2000)(1.48,-2180)(1.48,-2370)};
\end{axis}
\begin{axis}[cp,cell={10}{4},xe,yf]
\addplot[lv] coordinates {(0.90,-2480)(1.0,-2480)(1.0,-2100)(0.991,-2080)(0.991,-1550)(0.97,-1150)(0.921,-1550)(0.921,-2080)(0.90,-2100)(0.90,-2480)};
\addplot[lv] coordinates {(0.925,-2420)(0.995,-2420)(0.995,-2150)(0.988,-2130)(0.988,-1700)(0.97,-1450)(0.939,-1700)(0.939,-2130)(0.925,-2150)(0.925,-2420)};
\addplot[lv] coordinates {(0.945,-2370)(0.99,-2370)(0.99,-2190)(0.984,-2170)(0.984,-1900)(0.97,-1750)(0.953,-1900)(0.953,-2170)(0.945,-2190)(0.945,-2370)};
\end{axis}
\begin{axis}[cp,cell={10}{5},xp,yf]
\addplot[lv] coordinates {(4.39,-2480)(4.53,-2480)(4.53,-2100)(4.509,-2080)(4.509,-1550)(4.46,-1150)(4.411,-1550)(4.411,-2080)(4.39,-2100)(4.39,-2480)};
\addplot[lv] coordinates {(4.41,-2420)(4.51,-2420)(4.51,-2150)(4.495,-2130)(4.495,-1700)(4.46,-1450)(4.425,-1700)(4.425,-2130)(4.41,-2150)(4.41,-2420)};
\addplot[lv] coordinates {(4.435,-2370)(4.485,-2370)(4.485,-2190)(4.478,-2170)(4.478,-1900)(4.46,-1750)(4.443,-1900)(4.443,-2170)(4.435,-2190)(4.435,-2370)};
\end{axis}
\begin{axis}[cp,cell={10}{6},xr,yf]
\addplot[lv] coordinates {(283,-2480)(322,-2480)(322,-2100)(316,-2080)(316,-1550)(303,-1150)(289,-1550)(289,-2080)(283,-2100)(283,-2480)};
\addplot[lv] coordinates {(290,-2420)(316,-2420)(316,-2150)(312,-2130)(312,-1700)(303,-1450)(294,-1700)(294,-2130)(290,-2150)(290,-2420)};
\addplot[lv] coordinates {(296,-2370)(310,-2370)(310,-2190)(308,-2170)(308,-1900)(303,-1750)(298,-1900)(298,-2170)(296,-2190)(296,-2370)};
\end{axis}
\begin{axis}[cp,cell={10}{7},xt,yf]
\addplot[lv] coordinates {(3750,-2480)(4900,-2480)(4900,-2100)(4800,-2080)(4800,-1500)(4400,-1250)(4000,-1500)(4000,-2080)(3750,-2100)(3750,-2480)};
\addplot[lv] coordinates {(3950,-2420)(4800,-2420)(4800,-2150)(4700,-2130)(4700,-1700)(4400,-1500)(4150,-1700)(4150,-2130)(3950,-2150)(3950,-2420)};
\addplot[lv] coordinates {(4150,-2370)(4650,-2370)(4650,-2190)(4580,-2170)(4580,-1900)(4400,-1750)(4250,-1900)(4250,-2170)(4150,-2190)(4150,-2370)};
\end{axis}
\begin{axis}[cp,cell={10}{8},xb,yf]
\addplot[lv] coordinates {(0.1050,-2480)(0.1168,-2480)(0.1168,-2100)(0.1150,-2000)(0.1150,-1400)(0.1110,-1150)(0.1044,-1300)(0.1075,-1650)(0.1060,-2100)(0.1050,-2480)};
\addplot[lv] coordinates {(0.1075,-2420)(0.1160,-2420)(0.1160,-2150)(0.1140,-2100)(0.1140,-1600)(0.1110,-1400)(0.1080,-1500)(0.1090,-1800)(0.1080,-2150)(0.1075,-2420)};
\addplot[lv] coordinates {(0.1095,-2370)(0.1150,-2370)(0.1150,-2190)(0.1130,-2150)(0.1130,-1850)(0.1112,-1700)(0.1095,-1850)(0.1100,-2190)(0.1095,-2370)};
\end{axis}
\begin{axis}[cp,cell={10}{9},xa,yf]
\addplot[lv] coordinates {(0.008,-2480)(0.063,-2480)(0.063,-2100)(0.045,-2060)(0.045,-1550)(0.028,-1150)(0.012,-1550)(0.012,-2080)(0.008,-2100)(0.008,-2480)};
\addplot[lv] coordinates {(0.013,-2420)(0.055,-2420)(0.055,-2150)(0.040,-2130)(0.040,-1700)(0.028,-1450)(0.017,-1700)(0.017,-2130)(0.013,-2150)(0.013,-2420)};
\addplot[lv] coordinates {(0.020,-2370)(0.045,-2370)(0.045,-2190)(0.035,-2170)(0.035,-1900)(0.028,-1750)(0.022,-1900)(0.022,-2170)(0.020,-2190)(0.020,-2370)};
\end{axis}
\begin{axis}[cp,cell={10}{10},xf,dg,title={FWHM = $-2236.07^{+1222.63}_{-216.76}$}]
\addplot[hist] coordinates {(-2950,0)(-2500,0)(-2420,0.03)(-2360,0.15)(-2300,0.45)(-2250,0.85)(-2215,1.0)(-2180,0.8)(-2130,0.4)(-2080,0.2)(-2000,0.16)(-1900,0.2)(-1800,0.27)(-1700,0.3)(-1600,0.26)(-1500,0.18)(-1350,0.1)(-1100,0.05)(-800,0.03)(-500,0.02)(-200,0.01)(200,0.008)(600,0.005)(1000,0)} \closedcycle;
\end{axis}
% ---------------- row 11 (Velocity)
\begin{axis}[cp,cell={11}{1},xq,yv,yticklabels={1000,2000},ylabel={Velocity},xticklabels={2.4,2.6},xlabel={q}]
\addplot[lv] coordinates {(2.36,-100)(2.49,-100)(2.49,250)(2.466,350)(2.466,550)(2.41,650)(2.375,550)(2.36,350)(2.36,-100)};
\addplot[lv] coordinates {(2.375,-100)(2.46,-100)(2.46,200)(2.445,300)(2.445,430)(2.41,490)(2.386,430)(2.375,300)(2.375,-100)};
\addplot[lv] coordinates {(2.39,-100)(2.435,-100)(2.435,150)(2.428,230)(2.41,300)(2.396,230)(2.39,150)(2.39,-100)};
\end{axis}
\begin{axis}[cp,cell={11}{2},xs,yv,xticklabels={1000,2000,3000},xlabel={$\sigma$}]
\addplot[lv] coordinates {(450,-100)(1300,-100)(1300,250)(1120,350)(1120,550)(700,650)(525,550)(450,350)(450,-100)};
\addplot[lv] coordinates {(520,-100)(1050,-100)(1050,200)(945,300)(945,430)(700,490)(574,430)(520,300)(520,-100)};
\addplot[lv] coordinates {(600,-100)(830,-100)(830,150)(791,230)(700,300)(630,230)(600,150)(600,-100)};
\end{axis}
\begin{axis}[cp,cell={11}{3},xi,yv,xticklabels={1.00,1.25,1.50},xlabel={$i$}]
\addplot[lv] coordinates {(1.28,100)(1.28,-100)(1.62,-100)(1.62,820)(1.55,800)(1.48,500)(1.40,300)(1.28,100)};
\addplot[lv] coordinates {(1.40,150)(1.40,-100)(1.62,-100)(1.62,650)(1.54,550)(1.48,300)(1.40,150)};
\addplot[lv] coordinates {(1.48,-100)(1.62,-100)(1.62,450)(1.54,330)(1.50,150)(1.48,-100)};
\end{axis}
\begin{axis}[cp,cell={11}{4},xe,yv,xticklabels={0.75,0.90},xlabel={$e$}]
\addplot[lv] coordinates {(0.91,-100)(1.0,-100)(1.0,750)(0.975,700)(0.95,450)(0.925,200)(0.91,-100)};
\addplot[lv] coordinates {(0.93,-100)(1.0,-100)(1.0,560)(0.97,450)(0.945,200)(0.93,-100)};
\addplot[lv] coordinates {(0.95,-100)(1.0,-100)(1.0,350)(0.97,250)(0.955,100)(0.95,-100)};
\end{axis}
\begin{axis}[cp,cell={11}{5},xp,yv,xticklabels={4.2,4.4,4.6},xlabel={$\phi_0$}]
\addplot[lv] coordinates {(4.39,-100)(4.53,-100)(4.53,250)(4.509,350)(4.509,550)(4.46,650)(4.411,550)(4.39,350)(4.39,-100)};
\addplot[lv] coordinates {(4.41,-100)(4.51,-100)(4.51,200)(4.495,300)(4.495,430)(4.46,490)(4.425,430)(4.41,300)(4.41,-100)};
\addplot[lv] coordinates {(4.435,-100)(4.485,-100)(4.485,150)(4.478,230)(4.46,300)(4.443,230)(4.435,150)(4.435,-100)};
\end{axis}
\begin{axis}[cp,cell={11}{6},xr,yv,xticklabels={240,300},xlabel={r$_1$}]
\addplot[lv] coordinates {(283,-100)(322,-100)(322,250)(316,350)(316,550)(303,650)(289,550)(283,350)(283,-100)};
\addplot[lv] coordinates {(290,-100)(316,-100)(316,200)(312,300)(312,430)(303,490)(294,430)(290,300)(290,-100)};
\addplot[lv] coordinates {(296,-100)(310,-100)(310,150)(308,230)(303,300)(298,230)(296,150)(296,-100)};
\end{axis}
\begin{axis}[cp,cell={11}{7},xt,yv,xticklabels={3000,4500},xlabel={r$_2$}]
\addplot[lv] coordinates {(3800,-100)(4900,-100)(4900,250)(4740,350)(4740,550)(4350,650)(3965,550)(3800,350)(3800,-100)};
\addplot[lv] coordinates {(3980,-100)(4750,-100)(4750,200)(4630,300)(4630,430)(4350,490)(4091,430)(3980,300)(3980,-100)};
\addplot[lv] coordinates {(4150,-100)(4580,-100)(4580,150)(4511,230)(4350,300)(4210,230)(4150,150)(4150,-100)};
\end{axis}
\begin{axis}[cp,cell={11}{8},xb,yv,xticklabels={0.096,0.104,0.112},xlabel={B}]
\addplot[lv] coordinates {(0.1050,-100)(0.1170,-100)(0.1170,300)(0.1155,550)(0.1120,680)(0.1070,620)(0.1050,350)(0.1050,-100)};
\addplot[lv] coordinates {(0.1070,-100)(0.1162,-100)(0.1162,250)(0.1145,430)(0.1115,500)(0.1085,450)(0.1070,250)(0.1070,-100)};
\addplot[lv] coordinates {(0.1095,-100)(0.1150,-100)(0.1150,150)(0.1135,260)(0.1115,300)(0.1100,240)(0.1095,150)(0.1095,-100)};
\end{axis}
\begin{axis}[cp,cell={11}{9},xa,yv,xticklabels={0.04,0.08},xlabel={Amplitude}]
\addplot[lv] coordinates {(0.008,-100)(0.062,-100)(0.062,150)(0.045,300)(0.040,550)(0.027,680)(0.013,600)(0.008,300)(0.008,-100)};
\addplot[lv] coordinates {(0.013,-100)(0.055,-100)(0.055,120)(0.040,230)(0.036,430)(0.026,500)(0.016,430)(0.013,250)(0.013,-100)};
\addplot[lv] coordinates {(0.019,-100)(0.045,-100)(0.045,100)(0.034,180)(0.030,300)(0.024,300)(0.019,200)(0.019,-100)};
\end{axis}
\begin{axis}[cp,cell={11}{10},xf,yv,xticklabels={−1500,0},xlabel={FWHM}]
\addplot[lv] coordinates {(-2520,-100)(-2520,250)(-2150,380)(-1700,620)(-1300,640)(-1230,420)(-1600,200)(-1950,-100)(-2520,-100)};
\addplot[lv] coordinates {(-2440,-100)(-2440,200)(-2080,280)(-1700,480)(-1430,500)(-1420,320)(-1800,150)(-2100,-100)(-2440,-100)};
\addplot[lv] coordinates {(-2370,-100)(-2370,170)(-2120,190)(-1950,100)(-2050,-100)(-2370,-100)};
\addplot[lv] coordinates {(-1650,320)(-1500,420)(-1460,350)(-1600,260)(-1650,320)};
\end{axis}
\begin{axis}[cp,cell={11}{11},xv,dg,xticklabels={1000,2000},xlabel={Velocity},title={Velocity = $223.11^{+386.42}_{-72.19}$}]
\addplot[hist] coordinates {(0,0)(30,0.3)(70,0.75)(120,0.98)(160,0.9)(200,0.6)(260,0.45)(330,0.43)(400,0.42)(470,0.38)(530,0.25)(600,0.12)(700,0.06)(850,0.03)(1000,0.015)(1200,0.005)(1500,0)(3000,0)} \closedcycle;
\end{axis}
\end{tikzpicture}
\end{document}
